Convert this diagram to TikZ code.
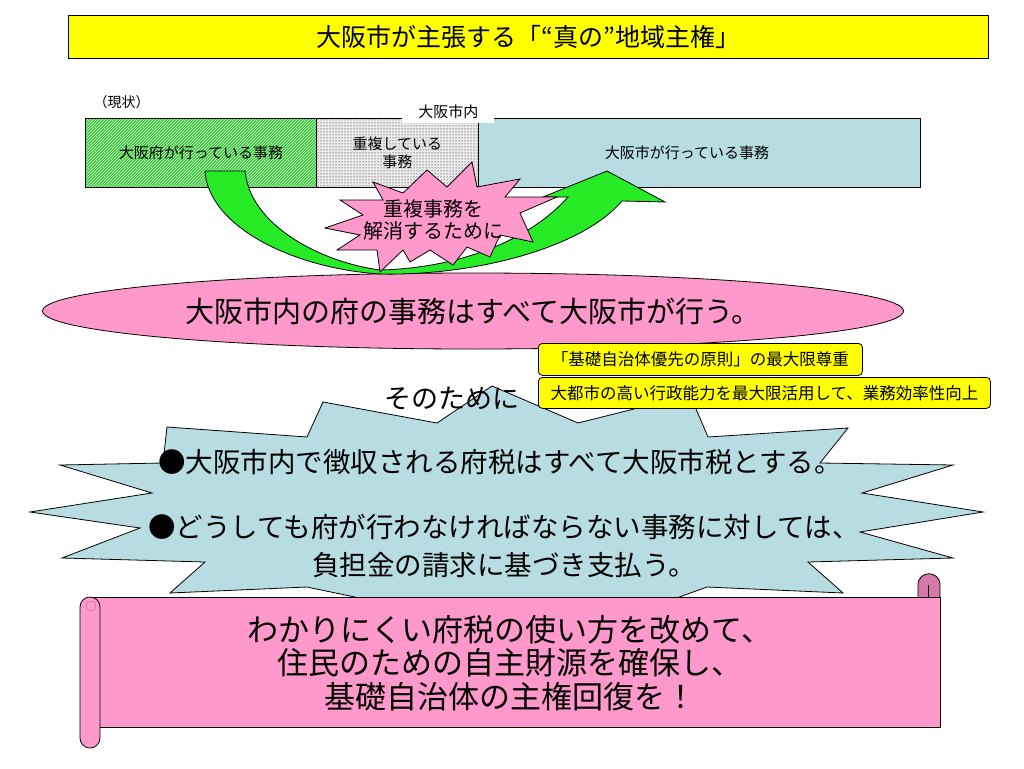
\documentclass[tikz,border=0pt]{standalone}
\usepackage{fontspec}
\setmainfont{Noto Sans CJK JP}
\usetikzlibrary{patterns,shapes.geometric}
\definecolor{titleyellow}{RGB}{255,255,0}
\definecolor{fupink}{RGB}{255,153,204}
\definecolor{curlpink}{RGB}{214,120,170}
\definecolor{cityblue}{RGB}{183,221,226}
\definecolor{hatchgreen}{RGB}{60,200,60}
\definecolor{arrowgreen}{RGB}{40,235,40}
\newcommand{\jfs}[2]{\fontsize{#1pt}{#2pt}\selectfont}
\begin{document}
\begin{tikzpicture}[x=1pt,y=-1pt,line width=0.8pt,
  cell/.style={draw,minimum height=69pt,anchor=north west,inner sep=0pt,font=\jfs{15}{18}},
  ybox/.style={draw,fill=titleyellow,rounded corners=4pt,anchor=north west,inner sep=0pt,font=\jfs{16.5}{18}},
  burst/.style={draw,fill=fupink,line join=miter},
  scroll/.style={draw,fill=fupink}]
\useasboundingbox (0,0) rectangle (1024,768);
\node[draw,fill=titleyellow,minimum width=920pt,minimum height=43pt,anchor=north west,font=\jfs{25}{28}] (title) at (68,15) {大阪市が主張する「“真の”地域主権」};
\node[anchor=west,font=\jfs{14}{16}] (now) at (90,102) {（現状）};
\node[cell,minimum width=231pt,preaction={fill=hatchgreen},pattern=north east lines,pattern color=white!85!green] (fu) at (85,118) {大阪府が行っている事務};
\node[cell,minimum width=162pt,preaction={fill=black!8},pattern=dots,pattern color=black,align=center] (dup) at (316,118) {重複している\\事務};
\node[cell,minimum width=442pt,fill=cityblue] (city) at (478,118) {};
\node[font=\jfs{15}{18}] (citytxt) at (687,153) {大阪市が行っている事務};
\node[fill=white,minimum width=92pt,minimum height=24pt,anchor=north west,inner sep=0pt,font=\jfs{15}{18}] (inside) at (402,99) {大阪市内};
\node[ellipse,draw,fill=fupink,minimum width=861pt,minimum height=76pt,inner sep=0pt,font=\jfs{29}{32}] (allcity) at (473,311) {大阪市内の府の事務はすべて大阪市が行う。};
\draw[fill=arrowgreen] (205,171) -- (245,171) .. controls (250,225) and (320,262) .. (380,270) .. controls (460,268) and (530,240) .. (568,197) -- (543,197) -- (607,171) -- (665,202) -- (622,201) .. controls (580,250) and (470,276) .. (380,274) .. controls (290,268) and (208,225) .. (205,171) -- cycle;
\draw[burst] (472,162) -- (477,187) -- (520,179) -- (505,197) -- (557,197) -- (520,213) -- (533,242) -- (500,235) -- (490,257) -- (467,247) -- (453,265) -- (430,250) -- (410,262) -- (403,250) -- (380,272) -- (377,250) -- (337,250) -- (360,235) -- (325,228) -- (363,215) -- (340,200) -- (383,200) -- (373,182) -- (403,193) -- (427,170) -- (447,187) -- cycle;
\node[align=center,font=\jfs{20}{22}] (solve) at (433,220) {重複事務を\\解消するために};
\draw[burst,fill=cityblue] (323,402) -- (437,423) -- (492,386) -- (578,423) -- (690,395) -- (708,437) -- (848,428) -- (820,463) -- (953,465) -- (862,493) -- (983,512) -- (860,532) -- (953,558) -- (808,562) -- (843,593) -- (707,587) -- (560,640) -- (307,587) -- (170,593) -- (205,562) -- (62,558) -- (140,528) -- (30,512) -- (152,493) -- (60,465) -- (163,463) -- (167,427) -- (307,437) -- cycle;
\node[font=\jfs{27}{30}] (forit) at (452,398) {そのために};
\node[ybox,minimum width=324pt,minimum height=32pt] (rule) at (538,343) {「基礎自治体優先の原則」の最大限尊重};
\node[ybox,minimum width=452pt,minimum height=31pt] (power) at (538,377) {大都市の高い行政能力を最大限活用して、業務効率性向上};
\node[font=\jfs{27.5}{30}] (tax) at (500,462) {●大阪市内で徴収される府税はすべて大阪市税とする。};
\node[align=center,font=\jfs{27.5}{38}] (pay) at (504,546) {●どうしても府が行わなければならない事務に対しては、\\負担金の請求に基づき支払う。};
\draw[scroll] (90,597) rectangle (940,727);
\draw[scroll,rounded corners=10pt] (80,597) rectangle (100,748);
\draw[curlpink] (91,606) circle (5pt);
\draw[scroll,fill=curlpink] (918,597) -- (918,585) .. controls (918,570) and (940,570) .. (940,585) -- (940,597);
\draw (928,585) -- (928,597);
\node[align=center,font=\jfs{31}{33.5}] (goal) at (510,663) {わかりにくい府税の使い方を改めて、\\住民のための自主財源を確保し、\\基礎自治体の主権回復を！};
\end{tikzpicture}
\end{document}
